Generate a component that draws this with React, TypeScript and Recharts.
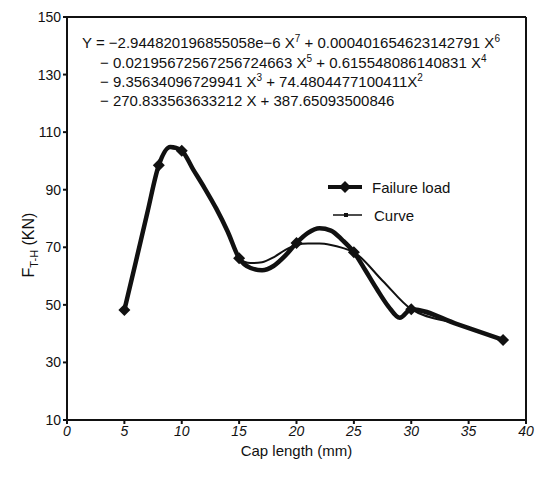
import { ComposedChart, Line, XAxis, YAxis, ReferenceLine } from 'recharts';

// thick "Failure load" trace
const loadX = [5, 6, 7, 8, 9, 10, 11, 12, 13, 14, 15, 16, 17, 18, 19, 20, 21, 22, 23, 24, 25, 26, 27, 28, 29, 30, 34, 38];
const loadY = [48.2, 65, 82, 98.5, 104.8, 103.5, 97, 90.5, 83.5, 75.5, 66.2, 62.8, 62, 63.5, 67, 71.5, 75, 76.6, 75.8, 72.5, 68.3, 62, 55.5, 49.5, 45.5, 48.5, 43.3, 37.8];

// measured points (diamonds)
const pointX = [5, 8, 10, 15, 20, 25, 30, 38];
const pointY = [48.2, 98.5, 103.8, 66.2, 71.5, 68.3, 48.5, 37.8];

// thin "Curve" trace
const curveX = [5, 6, 7, 8, 9, 10, 11, 12, 13, 14, 15, 16, 17, 18, 19, 20, 21, 22, 23, 24, 25, 27.5, 30, 34, 38];
const curveY = [48.2, 65, 82, 98.5, 104.6, 103.3, 97, 90.5, 83.5, 75.5, 66.2, 64.5, 64.8, 66.5, 69, 70.8, 71.3, 71.3, 70.8, 69.8, 68.3, 58.4, 48.5, 43.3, 37.8];

const xTicks = [0, 5, 10, 15, 20, 25, 30, 35, 40];
const yTicks = [10, 30, 50, 70, 90, 110, 130, 150];

const allX = Array.from(new Set([...loadX, ...curveX])).sort((a, b) => a - b);
const data = allX.map((x) => {
  const li = loadX.indexOf(x);
  const pi = pointX.indexOf(x);
  const ci = curveX.indexOf(x);
  return {
    x,
    load: li >= 0 ? loadY[li] : null,
    point: pi >= 0 ? pointY[pi] : null,
    curve: ci >= 0 ? curveY[ci] : null,
  };
});

const FONT = '"Liberation Sans", Arial, sans-serif';

// diamond drawn on the load line only where a measured point exists
const Diamond = (props: any) => {
  const { cx, cy, payload, index } = props;
  if (!payload || payload.point == null || cx == null || cy == null) return <g key={`d${index}`} />;
  const r = 6;
  return <path key={`d${index}`} d={`M${cx},${cy - r} L${cx + r},${cy} L${cx},${cy + r} L${cx - r},${cy} Z`} fill="#111" />;
};

const sup: React.CSSProperties = { fontSize: 10, position: 'relative', top: -6 };
const eqLine = (left: number, top: number): React.CSSProperties => ({
  position: 'absolute',
  left,
  top,
  fontSize: 15,
  lineHeight: 1,
  whiteSpace: 'nowrap',
  color: '#111',
});

export default function App() {
  return (
    <div style={{ position: 'absolute', left: 0, top: 0, width: 539, height: 477, background: '#fff', fontFamily: FONT }}>
      <ComposedChart width={539} height={477} data={data} margin={{ top: 17, right: 13, left: 0, bottom: 0 }}>
        <XAxis
          dataKey="x"
          type="number"
          domain={[0, 40]}
          ticks={xTicks}
          height={57}
          stroke="#111"
          strokeWidth={2}
          tickSize={4}
          tick={{ fill: '#111', fontSize: 14, fontStyle: 'italic', fontFamily: FONT }}
          label={{ value: 'Cap length (mm)', position: 'insideBottom', offset: 21, fill: '#111', fontSize: 15, fontFamily: FONT }}
        />
        <YAxis
          type="number"
          domain={[10, 150]}
          ticks={yTicks}
          width={67}
          stroke="#111"
          strokeWidth={2}
          tickSize={4}
          tick={{ fill: '#111', fontSize: 14, fontFamily: FONT }}
        />
        <ReferenceLine y={150} stroke="#111" strokeWidth={2} />
        <ReferenceLine x={40} stroke="#111" strokeWidth={2} />
        <Line dataKey="curve" type="monotone" stroke="#111" strokeWidth={2} dot={false} connectNulls isAnimationActive={false} />
        <Line dataKey="load" type="monotone" stroke="#111" strokeWidth={4.5} dot={Diamond} activeDot={false} connectNulls isAnimationActive={false} />
      </ComposedChart>

      {/* y axis title */}
      <div
        style={{
          position: 'absolute',
          left: 29,
          top: 245,
          transform: 'translate(-50%, -50%) rotate(-90deg)',
          fontSize: 16,
          whiteSpace: 'nowrap',
          color: '#111',
        }}
      >
        F<span style={{ fontSize: 11, position: 'relative', top: 4 }}>T-H</span> (KN)
      </div>

      {/* fitted equation */}
      <div style={eqLine(82, 34.5)}>
        Y = −2.944820196855058e−6 X<span style={sup}>7</span> + 0.000401654623142791 X<span style={sup}>6</span>
      </div>
      <div style={eqLine(100, 54.5)}>
        − 0.02195672567256724663 X<span style={sup}>5</span> + 0.615548086140831 X<span style={sup}>4</span>
      </div>
      <div style={eqLine(100, 73.5)}>
        − 9.35634096729941 X<span style={sup}>3</span> + 74.4804477100411X<span style={sup}>2</span>
      </div>
      <div style={eqLine(100, 92.5)}>− 270.833563633212 X + 387.65093500846</div>

      {/* legend */}
      <svg width={40} height={16} style={{ position: 'absolute', left: 326, top: 179 }}>
        <line x1={2} y1={8} x2={36} y2={8} stroke="#111" strokeWidth={4} />
        <path d="M19,2 L25,8 L19,14 L13,8 Z" fill="#111" />
      </svg>
      <div style={eqLine(372, 179.5)}>Failure load</div>
      <svg width={34} height={10} style={{ position: 'absolute', left: 331, top: 210 }}>
        <line x1={2} y1={5} x2={31} y2={5} stroke="#111" strokeWidth={1.5} />
        <rect x={13} y={3} width={4} height={4} fill="#111" />
      </svg>
      <div style={eqLine(374, 207.5)}>Curve</div>
    </div>
  );
}
